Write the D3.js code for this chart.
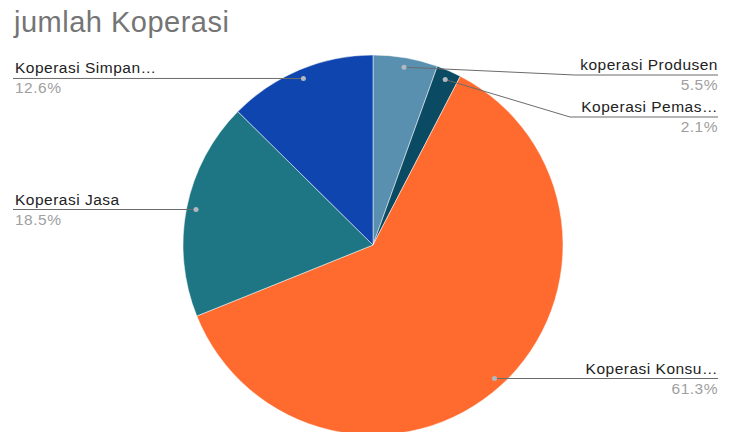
<!DOCTYPE html>
<html><head><meta charset="utf-8">
<script src="https://cdn.jsdelivr.net/npm/d3@7"></script>
<style>body{margin:0;background:#fff}svg{display:block}text{font-family:"Liberation Sans",Arial,sans-serif}</style>
</head><body><svg id="c" width="732" height="432"></svg>
<script>
const categories = ["koperasi Produsen","Koperasi Pemasaran","Koperasi Konsumen","Koperasi Jasa","Koperasi Simpan Pinjam"];
const displayLabels = ["koperasi Produsen","Koperasi Pemas…","Koperasi Konsu…","Koperasi Jasa","Koperasi Simpan…"];
const values = [5.5, 2.1, 61.3, 18.5, 12.6];
const colors = ["#5990b0","#0b4a63","#ff6b2e","#1e7684","#0e45ae"];
const title = "jumlah Koperasi";

const svg = d3.select("#c");
const W = 732, H = 432, cx = 373, cy = 245, R = 190;

svg.append("text").attr("x", 14).attr("y", 32).attr("font-size", 29).attr("letter-spacing", 0.5).attr("fill", "#757575").text(title);

const data = categories.map((c,i)=>({name:c, label:displayLabels[i], value:values[i], color:colors[i]}));
const pie = d3.pie().value(d=>d.value).sort(null);
const arcs = pie(data);
const arc = d3.arc().innerRadius(0).outerRadius(R);
const g = svg.append("g").attr("transform", `translate(${cx},${cy})`);
g.selectAll("path").data(arcs).join("path").attr("d", arc).attr("fill", d=>d.data.color)
  .attr("stroke","#fff").attr("stroke-width",0.5);

const layout = [
  {side:"r", lineY:75, elbowX:575},
  {side:"r", lineY:117, elbowX:570},
  {side:"r", lineY:378, elbowX:null},
  {side:"l", lineY:209, elbowX:null},
  {side:"l", lineY:78, elbowX:null}
];
const dotArc = d3.arc().innerRadius(R*0.95).outerRadius(R*0.95);
const lg = svg.append("g");
arcs.forEach((a,i)=>{
  const [dx,dy] = dotArc.centroid(a);
  const px = cx+dx, py = cy+dy;
  const L = layout[i];
  let pts;
  if (L.side==="r") {
    const ex = L.elbowX ?? px;
    const ey = L.elbowX ? L.lineY : py;
    pts = [[px,py],[ex,ey],[718,ey]];
  } else {
    pts = [[px,py],[13,py]];
  }
  lg.append("path").attr("d", d3.line()(pts)).attr("fill","none").attr("stroke","#6b6b6b").attr("stroke-width",1);
  lg.append("circle").attr("cx",px).attr("cy",py).attr("r",2.5).attr("fill","#b0b8c0");
  const ly = pts[pts.length-1][1];
  const tx = L.side==="r" ? 718 : 15;
  const anchor = L.side==="r" ? "end" : "start";
  lg.append("text").attr("x",tx).attr("y",ly-5).attr("text-anchor",anchor).attr("font-size",15.5).attr("letter-spacing",0.5).attr("fill","#222").text(a.data.label);
  lg.append("text").attr("x",tx).attr("y",ly+15).attr("text-anchor",anchor).attr("font-size",15.5).attr("letter-spacing",0.5).attr("fill","#a0a0a0").text(a.data.value.toFixed(1)+"%");
});
</script></body></html>
